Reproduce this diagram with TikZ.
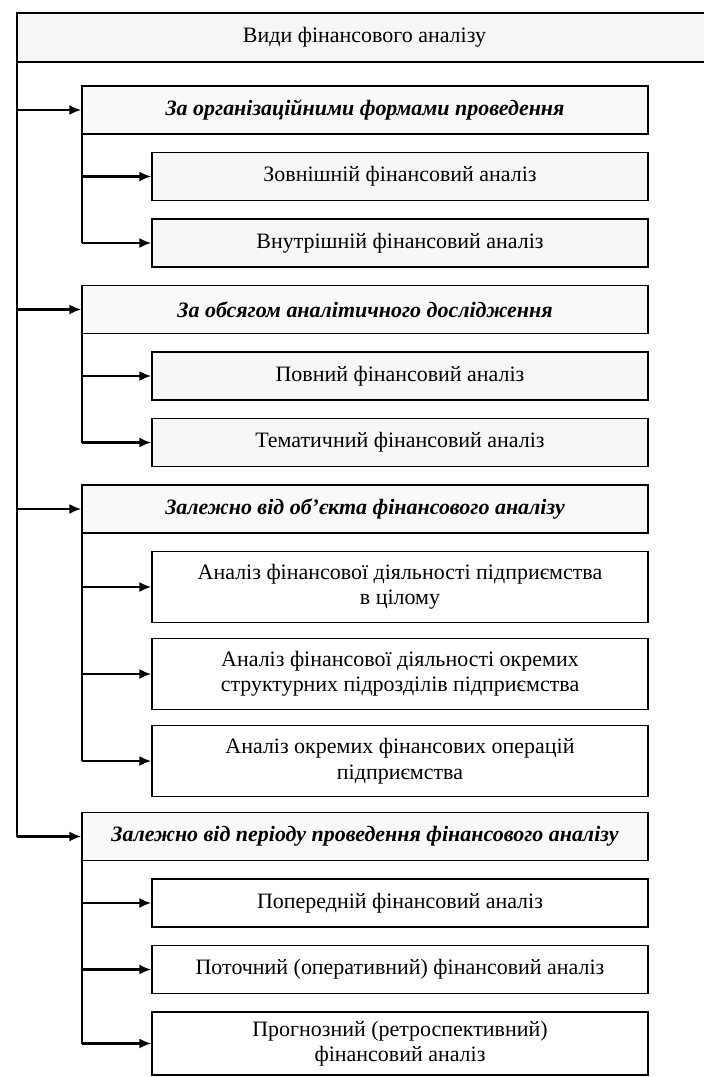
\documentclass[tikz,border=0pt]{standalone}
\usepackage{fontspec}
\setmainfont{Liberation Serif}
\usetikzlibrary{positioning, arrows.meta}

\begin{document}
\begin{tikzpicture}[
    node distance = .37cm,
    font=\fontsize{12.5}{14.5}\selectfont,
    head/.style={
        draw, rectangle, line width=.9pt, fill=gray!7, inner sep=0pt, outer sep=0pt,
        minimum width=13.9cm, minimum height=.98cm
    },
    kind/.style={
        draw, rectangle, line width=.9pt, fill=gray!5, inner sep=0pt, outer sep=0pt,
        minimum width=11.32cm, minimum height=.96cm,
        font=\fontsize{12.5}{14.5}\selectfont\bfseries\itshape
    },
    sub/.style={
        draw, rectangle, line width=.9pt, fill=white, align=center, inner sep=0pt, outer sep=0pt,
        minimum width=9.92cm, minimum height=.96cm
    },
    subg/.style={sub, fill=gray!6},
    tall/.style={sub, minimum height=1.42cm},
    arr/.style={-{Latex[length=2.4mm, width=2mm]}, line width=1.2pt, shorten >=.4pt},
    trunk/.style={line width=.8pt},
]

    \useasboundingbox (0,0) rectangle (14.06,-21.54);

    \node[head, anchor=north west](vyd) at (0.34,-0.26) {Види фінансового аналізу};

    \node[kind, anchor=north west](f1) at (1.64,-1.72) {За організаційними формами проведення};
    \node[subg, below left=.37cm and 0cm of f1.south east](f1a) {Зовнішній фінансовий аналіз};
    \node[subg, below left=.37cm and 0cm of f1a.south east](f1b) {Внутрішній фінансовий аналіз};

    \node[kind, below left=.37cm and 0cm of f1b.south east](f2) {За обсягом аналітичного дослідження};
    \node[subg, below left=.37cm and 0cm of f2.south east](f2a) {Повний фінансовий аналіз};
    \node[subg, below left=.37cm and 0cm of f2a.south east](f2b) {Тематичний фінансовий аналіз};

    \node[kind, below left=.37cm and 0cm of f2b.south east](f3) {Залежно від об’єкта фінансового аналізу};
    \node[tall, below left=.37cm and 0cm of f3.south east](f3a) {Аналіз фінансової діяльності підприємства\\в цілому};
    \node[tall, below left=.32cm and 0cm of f3a.south east](f3b) {Аналіз фінансової діяльності окремих\\структурних підрозділів підприємства};
    \node[tall, below left=.32cm and 0cm of f3b.south east](f3c) {Аналіз окремих фінансових операцій\\підприємства};

    \node[kind, below left=.32cm and 0cm of f3c.south east](f4) {Залежно від періоду проведення фінансового аналізу};
    \node[sub, below left=.37cm and 0cm of f4.south east](f4a) {Попередній фінансовий аналіз};
    \node[sub, below left=.37cm and 0cm of f4a.south east](f4b) {Поточний (оперативний) фінансовий аналіз};
    \node[tall, minimum height=1.26cm, below left=.37cm and 0cm of f4b.south east](f4c) {Прогнозний (ретроспективний)\\фінансовий аналіз};

    \draw[trunk] (vyd.south west) -- (vyd.south west |- f4.west);
    \foreach \f in {f1,f2,f3,f4}
        \draw[arr] (vyd.south west |- \f.west) -- (\f.west);

    \draw[trunk] (f1.south west) -- (f1.south west |- f1b.west);
    \draw[trunk] (f2.south west) -- (f2.south west |- f2b.west);
    \draw[trunk] (f3.south west) -- (f3.south west |- f3c.west);
    \draw[trunk] (f4.south west) -- (f4.south west |- f4c.west);
    \foreach \f/\s in {f1/f1a,f1/f1b,f2/f2a,f2/f2b,f3/f3a,f3/f3b,f3/f3c,f4/f4a,f4/f4b,f4/f4c}
        \draw[arr] (\f.south west |- \s.west) -- (\s.west);

\end{tikzpicture}
\end{document}
